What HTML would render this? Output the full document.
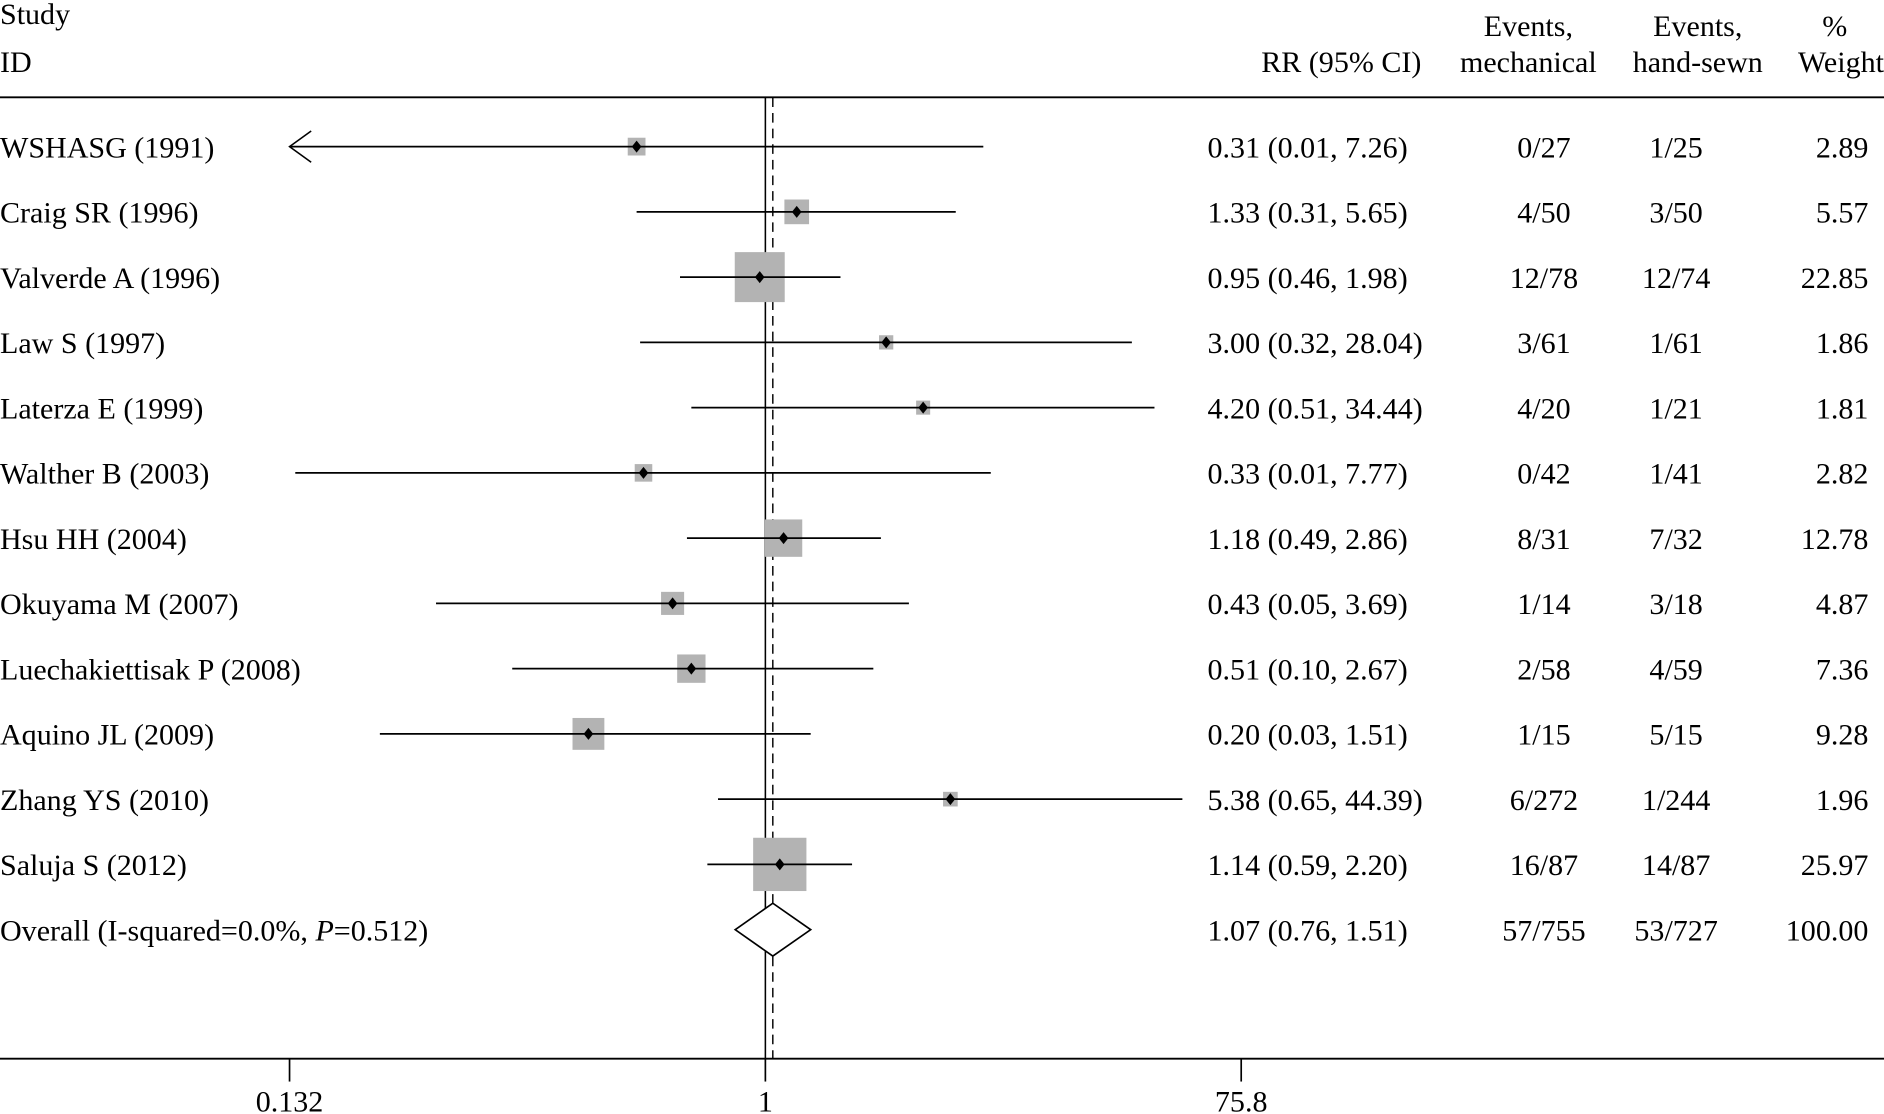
<!DOCTYPE html>
<html><head><meta charset="utf-8"><style>
html,body{margin:0;padding:0;background:#fff}
svg{display:block}
text{font-family:"Liberation Serif",serif;font-size:25px;fill:#000}
</style></head><body>
<svg id="chart" width="1884" height="1114" viewBox="0 0 1568 927" preserveAspectRatio="none" xmlns="http://www.w3.org/2000/svg">
<g id="g"></g>
</svg>
<script>
const studies=["WSHASG (1991)","Craig SR (1996)","Valverde A (1996)","Law S (1997)","Laterza E (1999)","Walther B (2003)","Hsu HH (2004)","Okuyama M (2007)","Luechakiettisak P (2008)","Aquino JL (2009)","Zhang YS (2010)","Saluja S (2012)"];
const rr=[0.31,1.33,0.95,3.00,4.20,0.33,1.18,0.43,0.51,0.20,5.38,1.14];
const lo=[0.01,0.31,0.46,0.32,0.51,0.0139,0.49,0.05,0.10,0.03,0.65,0.59];
const hi=[7.26,5.65,1.98,28.04,34.44,7.77,2.86,3.69,2.67,1.51,44.39,2.20];
const ciText=["0.31 (0.01, 7.26)","1.33 (0.31, 5.65)","0.95 (0.46, 1.98)","3.00 (0.32, 28.04)","4.20 (0.51, 34.44)","0.33 (0.01, 7.77)","1.18 (0.49, 2.86)","0.43 (0.05, 3.69)","0.51 (0.10, 2.67)","0.20 (0.03, 1.51)","5.38 (0.65, 44.39)","1.14 (0.59, 2.20)"];
const evMech=["0/27","4/50","12/78","3/61","4/20","0/42","8/31","1/14","2/58","1/15","6/272","16/87"];
const evHand=["1/25","3/50","12/74","1/61","1/21","1/41","7/32","3/18","4/59","5/15","1/244","14/87"];
const weight=[2.89,5.57,22.85,1.86,1.81,2.82,12.78,4.87,7.36,9.28,1.96,25.97];
const arrowFlag=[1,0,0,0,0,0,0,0,0,0,0,0];
const overall=[1.07,0.76,1.51];
const overallText=["1.07 (0.76, 1.51)","57/755","53/727","100.00"];
const tickVals=[1/75.8,1,75.8];
const tickLabels=["0.132","1","75.8"];

const NS="http://www.w3.org/2000/svg";
const g=document.getElementById("g");
const X0=637,PX=91.5,xMin=1/75.8;
function x(v){return X0+Math.log(Math.max(v,xMin))*PX;}
function rowY(i){return 122+i*54.3;}
function el(t,a,p){const e=document.createElementNS(NS,t);for(const k in a)e.setAttribute(k,a[k]);(p||g).appendChild(e);return e;}
function txt(s,xx,yy,anchor,name){const t=el("text",{x:xx,y:yy,"text-anchor":anchor||"start"});t.textContent=s;


return t;}

// header
txt("Study",0,20,"start","header-study");
txt("ID",0,60,"start","header-id");
txt("RR (95% CI)",1183,60,"end","header-rr");
txt("Events,",1272,30,"middle","header-events-mech-1");
txt("mechanical",1272,60,"middle","header-events-mech-2");
txt("Events,",1413,30,"middle","header-events-hand-1");
txt("hand-sewn",1413,60,"middle","header-events-hand-2");
txt("%",1527,30,"middle","header-weight-1");
txt("Weight",1568,60,"end","header-weight-2");
let l=el("line",{x1:0,x2:1568,y1:81,y2:81,stroke:"#000","stroke-width":1.6});



// null line & overall dashed line
l=el("line",{x1:x(1),x2:x(1),y1:81,y2:881,stroke:"#000","stroke-width":1.3});


l=el("line",{x1:x(overall[0]),x2:x(overall[0]),y1:81,y2:881,stroke:"#000","stroke-width":1.2,"stroke-dasharray":"8,5"});



for(let i=0;i<studies.length;i++){
  const y=rowY(i);
  const s=8.7*Math.sqrt(weight[i]);
  const b=el("rect",{x:x(rr[i])-s/2,y:y-s/2,width:s,height:s,fill:"#b3b3b3"});
  
  
  const c=el("line",{x1:x(lo[i]),x2:x(hi[i]),y1:y,y2:y,stroke:"#000","stroke-width":1.5});
  
  
  if(arrowFlag[i]){
    const a=el("polyline",{points:`${x(lo[i])+18},${y-13} ${x(lo[i])},${y} ${x(lo[i])+18},${y+13}`,fill:"none",stroke:"#000","stroke-width":1.3});
    
    
  }
  const px=x(rr[i]);
  const d=el("polygon",{points:`${px-4},${y} ${px},${y-5} ${px+4},${y} ${px},${y+5}`,fill:"#000"});
  
  
  txt(studies[i],0,y+9,"start","study-label-"+i);
  txt(ciText[i],1005,y+9,"start","rr-ci-"+i);
  txt(evMech[i],1285,y+9,"middle","events-mech-"+i);
  txt(evHand[i],1395,y+9,"middle","events-hand-"+i);
  txt(weight[i].toFixed(2),1555,y+9,"end","weight-"+i);
}
// overall
const oy=rowY(12);
const dia=el("polygon",{points:`${x(overall[1])},${oy} ${x(overall[0])},${oy-22} ${x(overall[2])},${oy} ${x(overall[0])},${oy+22}`,fill:"#fff",stroke:"#000","stroke-width":1.4});


const ot=el("text",{x:0,y:oy+9});
ot.innerHTML='Overall (I-squared=0.0%, <tspan font-style="italic">P</tspan>=0.512)';


txt(overallText[0],1005,oy+9,"start","overall-rr-ci");
txt(overallText[1],1285,oy+9,"middle","overall-events-mech");
txt(overallText[2],1395,oy+9,"middle","overall-events-hand");
txt(overallText[3],1555,oy+9,"end","overall-weight");

// x axis
l=el("line",{x1:0,x2:1568,y1:881,y2:881,stroke:"#000","stroke-width":1.6});


for(let i=0;i<tickVals.length;i++){
  const tx=x(tickVals[i]);
  const t=el("line",{x1:tx,x2:tx,y1:881,y2:900,stroke:"#000","stroke-width":1.4});
  
  
  txt(tickLabels[i],tx,925,"middle","x-tick-label-"+i);
}
</script>
</body></html>
